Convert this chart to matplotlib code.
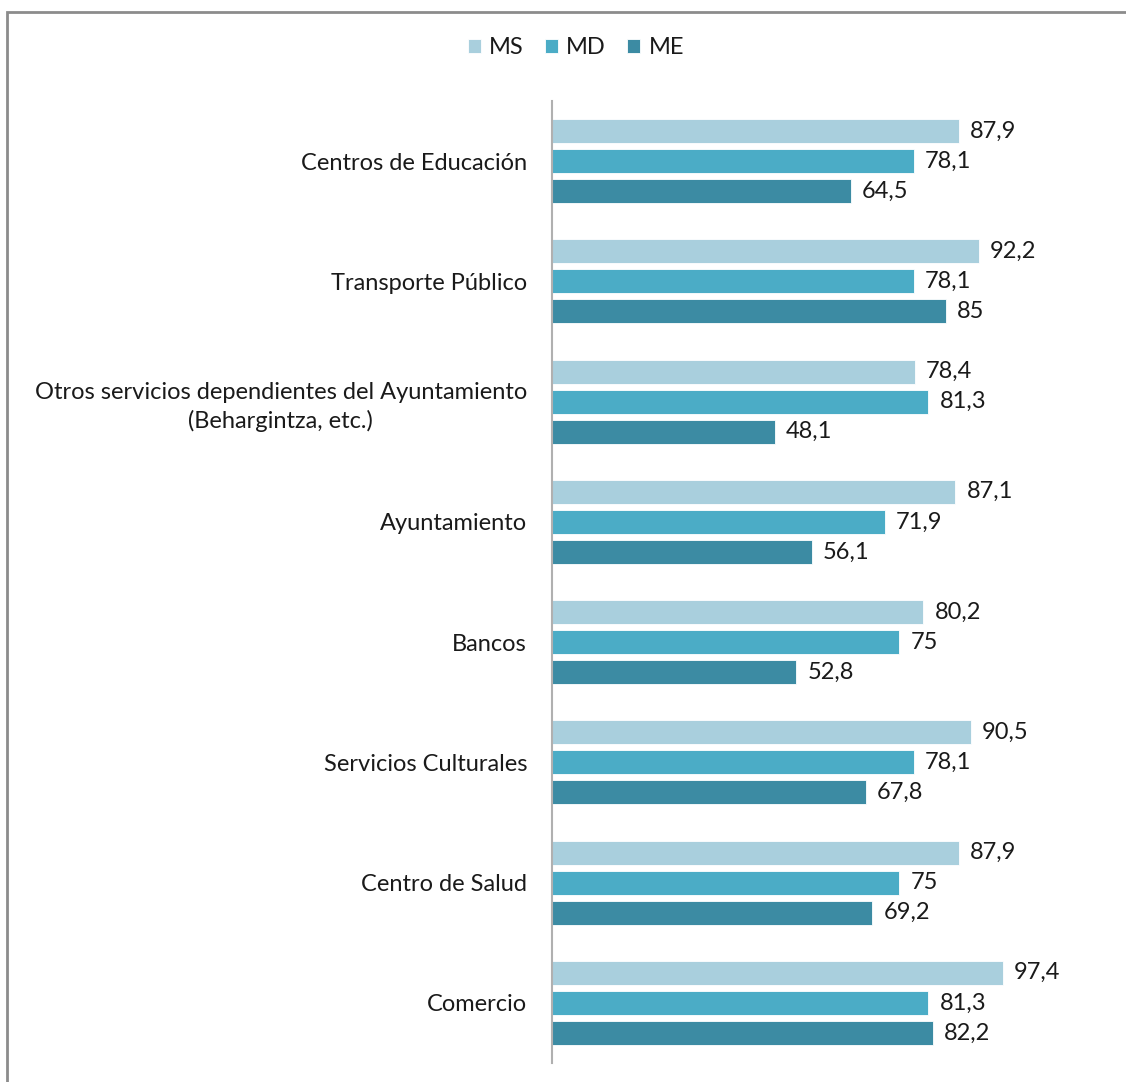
import numpy as np
import matplotlib.pyplot as plt

plt.rcParams['font.family'] = ['Lato', 'DejaVu Sans']

categorias = [
    "Centros de Educación",
    "Transporte Público",
    "Otros servicios dependientes del Ayuntamiento\n(Behargintza, etc.)",
    "Ayuntamiento",
    "Bancos",
    "Servicios Culturales",
    "Centro de Salud",
    "Comercio",
]
ms = [87.9, 92.2, 78.4, 87.1, 80.2, 90.5, 87.9, 97.4]
md = [78.1, 78.1, 81.3, 71.9, 75, 78.1, 75, 81.3]
me = [64.5, 85, 48.1, 56.1, 52.8, 67.8, 69.2, 82.2]

series = [("MS", ms, "#a9cfdd"), ("MD", md, "#4bacc6"), ("ME", me, "#3c8ba3")]

fig = plt.figure(figsize=(11.26, 10.82), dpi=100)
ax = fig.add_axes([552/1126, 1 - 1063/1082, 463/1126, 962/1082])

y = np.arange(len(categorias))
for i, (nombre, vals, color) in enumerate(series):
    pos = y + (i - 1) * 0.25
    ax.barh(pos, vals, height=0.2, color=color, label=nombre,
            edgecolor="white", linewidth=0.6)
    for p, v in zip(pos, vals):
        txt = f"{v:g}".replace(".", ",")
        ax.annotate(txt, (v, p), xytext=(8, 0), textcoords="offset points",
                    va="center", ha="left", fontsize=17, color="#1a1a1a")

ax.set_xlim(0, 100)
ax.set_ylim(len(categorias) - 0.5, -0.5)
ax.set_yticks(y)
ax.set_yticklabels(categorias, fontsize=17, color="#1a1a1a",
                   multialignment="center", linespacing=1.35)
ax.tick_params(axis="y", length=0, pad=18)
ax.set_xticks([])
for s in ["top", "right", "bottom"]:
    ax.spines[s].set_visible(False)
ax.spines["left"].set_color("#b0b0b0")
ax.spines["left"].set_linewidth(1.5)

fig.legend(loc="center", bbox_to_anchor=(576/1126, 1 - 48/1082), ncol=3,
           frameon=False, fontsize=17, handlelength=0.55, handleheight=0.55,
           handletextpad=0.35, columnspacing=0.9, labelcolor="#1a1a1a")

# marco exterior
fig.patches.append(plt.Rectangle((7/1126, -0.1), 1.2, 1 - 12/1082 + 0.1,
                                 transform=fig.transFigure, fill=False,
                                 edgecolor="#8c8c8c", linewidth=2))

fig.savefig("out.png", dpi=100)
